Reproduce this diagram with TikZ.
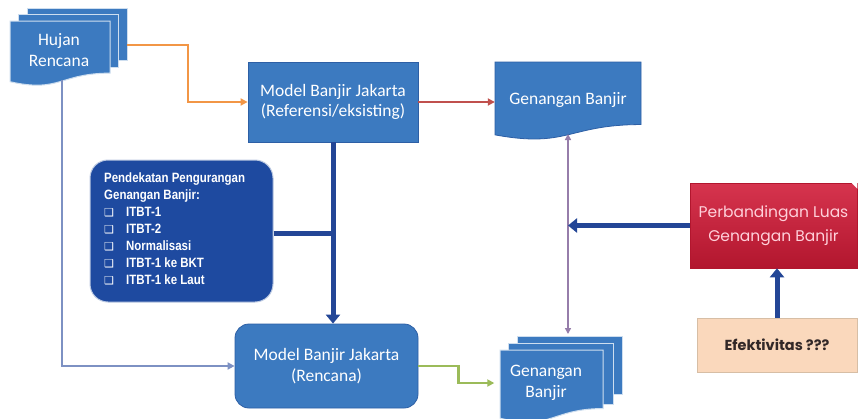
\documentclass[tikz,border=0pt]{standalone}
\usepackage{fontspec}
\setmainfont{Carlito}
\newfontfamily\narrowfont[FakeStretch=0.85]{Liberation Sans}
\newfontfamily\geofont{Poppins}
\newfontfamily\symfont{DejaVu Sans}
\usetikzlibrary{arrows.meta,calc}
\definecolor{mainblue}{RGB}{60,122,192}
\definecolor{mainedge}{RGB}{45,95,165}
\definecolor{darkblue}{RGB}{30,74,160}
\definecolor{thickblue}{RGB}{35,70,150}
\definecolor{orangeln}{RGB}{242,150,70}
\definecolor{redln}{RGB}{192,80,77}
\definecolor{grayblue}{RGB}{125,145,195}
\definecolor{greenln}{RGB}{155,187,89}
\definecolor{purpleln}{RGB}{150,125,170}
\definecolor{crimtop}{RGB}{214,52,78}
\definecolor{crimbot}{RGB}{178,22,46}
\definecolor{pinktxt}{RGB}{255,208,218}
\definecolor{peach}{RGB}{250,216,188}
\definecolor{peachedge}{RGB}{215,190,165}
\definecolor{darktxt}{RGB}{50,40,40}
\newcommand\docshape[5]{%
  \path[#1] (#2,#3) -- ({#2+#4},#3) -- ({#2+#4},{#3+0.802*#5})
    .. controls ({#2+0.5*#4},{#3+0.802*#5}) and ({#2+0.5*#4},{#3+1.107*#5}) ..
    (#2,{#3+0.934*#5}) -- cycle;}
\newcommand\chk{\makebox[22pt][l]{\symfont\fontsize{11}{11}\selectfont ❑}}
\tikzset{
  bluefill/.style={fill=mainblue,draw=mainedge,line width=0.8pt},
  layerfill/.style={fill=mainblue,draw=white!75!mainblue,line width=1pt},
  wtext/.style={text=white,font=\fontsize{17.5}{20.5}\selectfont,align=center,inner sep=0pt},
  thinarrow/.style={line width=2.5pt,-{Triangle[length=7pt,width=7pt]}},
  thickarrow/.style={line width=5pt,draw=thickblue,-{Triangle[length=9pt,width=14pt]}},
}
\begin{document}
\begin{tikzpicture}[x=1pt,y=-1pt]
\useasboundingbox (0,0) rectangle (858,418);
\fill[white] (0,0) rectangle (858,418);

% Hujan Rencana (multi document)
\path[layerfill] (27,8) rectangle (127,60);
\path[layerfill] (18,14) rectangle (118,67);
\docshape{layerfill}{10}{21}{100}{65}
\node[wtext,minimum width=100pt,minimum height=60pt] (hj) at (59,50) {Hujan\\Rencana};
\coordinate (hjr) at (127,45);
\coordinate (hjb) at (62,80);

% Model Banjir Jakarta (Referensi)
\node[bluefill,wtext,minimum width=170pt,minimum height=80pt] (mref) at (333,102)
  {Model Banjir Jakarta\\(Referensi/eksisting)};

% Genangan Banjir (document)
\docshape{bluefill}{495}{62}{146}{78}
\node[wtext,minimum width=146pt,minimum height=70pt] (gb) at (568,100) {Genangan Banjir};
\coordinate (gbb) at (568,134);

% Pendekatan box
\node[fill=darkblue,draw=white!70!darkblue,line width=1pt,rounded corners=18pt,
  minimum width=183pt,minimum height=142pt,inner sep=0pt] (pend) at (181.5,231) {};
\node[anchor=north west,inner sep=0pt,text=white,align=left,
  font=\narrowfont\bfseries\fontsize{13.5}{17}\selectfont] (pendtxt) at (104,173)
  {Pendekatan Pengurangan\\
   Genangan Banjir:\\
   \chk ITBT-1\\
   \chk ITBT-2\\
   \chk Normalisasi\\
   \chk ITBT-1 ke BKT\\
   \chk ITBT-1 ke Laut};

% Model Banjir Jakarta (Rencana)
\node[bluefill,wtext,rounded corners=14pt,minimum width=183pt,minimum height=84pt] (mren) at (326.5,366)
  {Model Banjir Jakarta\\(Rencana)};

% Genangan Banjir (multi document, bottom)
\path[layerfill] (517,336) rectangle (622,394);
\path[layerfill] (508,343) rectangle (613,404);
\docshape{layerfill}{500}{350}{103}{73}
\node[wtext,minimum width=103pt,minimum height=56pt] (gbm) at (546,383) {Genangan\\Banjir};
\coordinate (gbmt) at (568,334);

% Perbandingan
\node[top color=crimtop,bottom color=crimbot,draw=crimbot,line width=0.6pt,
  minimum width=167pt,minimum height=85pt,inner sep=0pt,
  text=pinktxt,align=center,font=\geofont\fontsize{15.5}{24}\selectfont] (perb) at (773.5,225.5)
  {Perbandingan Luas\\Genangan Banjir};
\fill[white] ($(perb.north east)+(-6,0)$) -- (perb.north east) -- ($(perb.north east)+(0,6)$) -- cycle;

% Efektivitas
\node[fill=peach,draw=peachedge,line width=0.8pt,minimum width=160pt,minimum height=54pt,
  inner sep=0pt,text=darktxt,font=\geofont\bfseries\fontsize{14.5}{16}\selectfont] (efk) at (777,345)
  {Efektivitas ???};

% Connectors
\draw[thinarrow,orangeln] (hjr) -- ++(61,0) |- (mref.west);
\draw[thinarrow,redln] (mref.east) -- (mref.east -| gb.west);
\draw[thinarrow,grayblue] (hjb) |- (mren.west);
\draw[thinarrow,greenln] (mren.east) -- ++(40,0) |- (gbm.west);
\draw[line width=1.8pt,purpleln,{Triangle[length=6pt,width=6pt]}-{Triangle[length=6pt,width=6pt]}] (gbb) -- (gbmt);
\draw[line width=5pt,draw=thickblue] (pend.east |- 0,233) -- (mref.south |- 0,233);
\draw[thickarrow] (mref.south) -- (mref.south |- mren.north);
\draw[thickarrow] (perb.west) -- (perb.west -| gbb);
\draw[thickarrow] (efk.north) -- (perb.south -| efk.north);
\end{tikzpicture}
\end{document}
